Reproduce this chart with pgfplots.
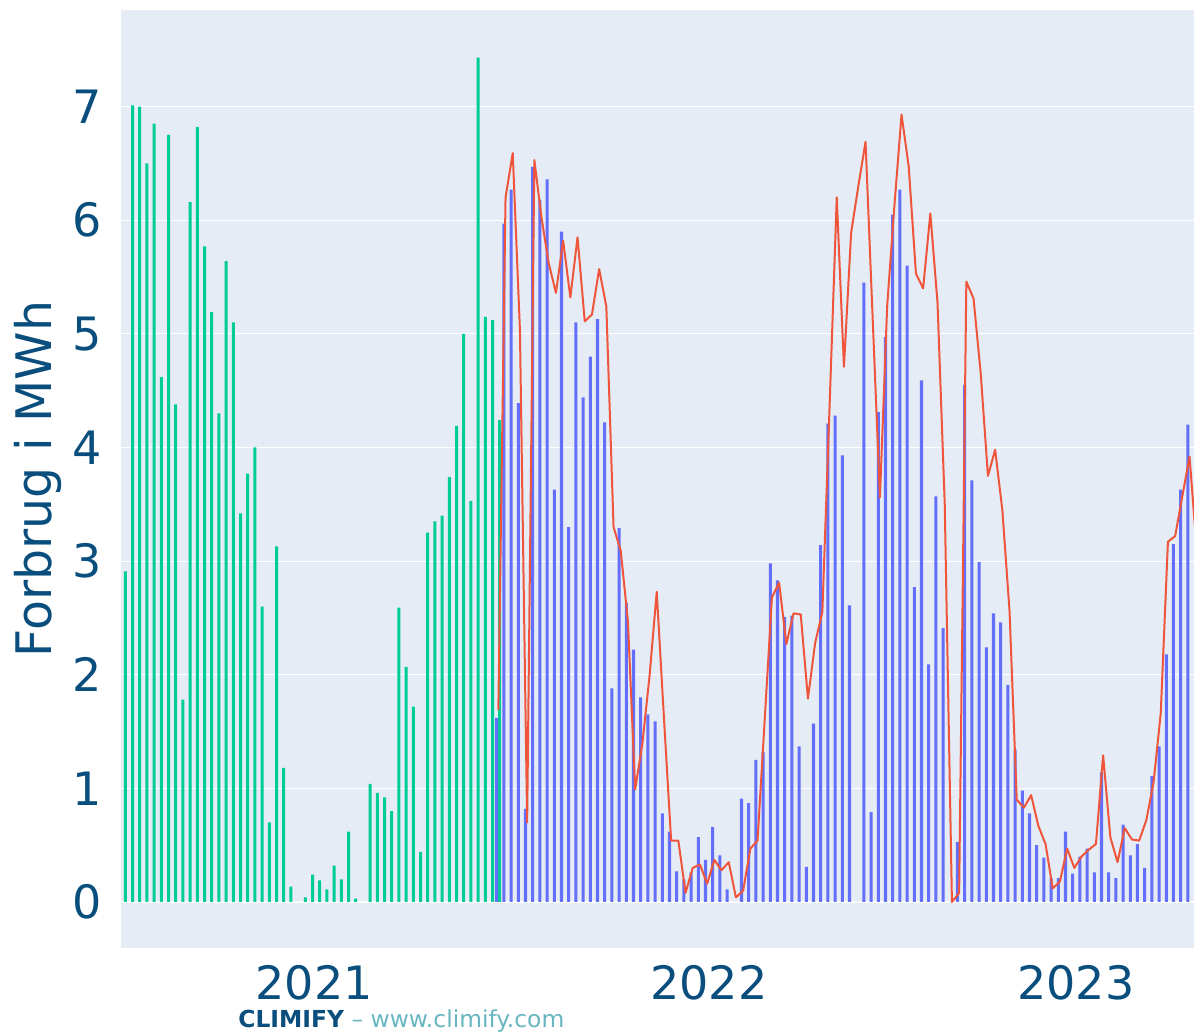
\documentclass[border=0pt]{standalone}
\usepackage{fontspec}
\setmainfont{DejaVu Sans}
\usepackage{pgfplots}
\usepackage{pgfplotstable}
\pgfplotsset{compat=1.18}

\definecolor{plotbg}{HTML}{E5ECF6}
\definecolor{pgreen}{HTML}{00CC96}
\definecolor{pblue}{HTML}{636EFA}
\definecolor{pred}{HTML}{EF553B}
\definecolor{txtblue}{RGB}{10,78,125}
\definecolor{linkteal}{RGB}{104,182,192}

% weekly consumption, MWh (first season, green)
\pgfplotstableread[row sep=\\]{
y\\ 2.91\\ 7.01\\ 7.00\\ 6.50\\ 6.85\\ 4.62\\ 6.75\\ 4.38\\ 1.78\\ 6.16\\
6.82\\ 5.77\\ 5.19\\ 4.30\\ 5.64\\ 5.10\\ 3.42\\ 3.77\\ 4.00\\ 2.60\\
0.70\\ 3.13\\ 1.18\\ 0.135\\ 0\\ 0.04\\ 0.24\\ 0.19\\ 0.11\\ 0.32\\
0.20\\ 0.62\\ 0.03\\ 0\\ 1.04\\ 0.96\\ 0.92\\ 0.80\\ 2.59\\ 2.07\\
1.72\\ 0.44\\ 3.25\\ 3.35\\ 3.40\\ 3.74\\ 4.19\\ 5.00\\ 3.53\\ 7.43\\
5.15\\ 5.12\\ 4.24\\
}\greendata

% weekly consumption, MWh (later, blue)
\pgfplotstableread[row sep=\\]{
y\\ 1.62\\ 5.97\\ 6.27\\ 4.39\\ 0.82\\ 6.47\\ 6.18\\ 6.36\\ 3.63\\ 5.90\\
3.30\\ 5.10\\ 4.44\\ 4.80\\ 5.13\\ 4.22\\ 1.88\\ 3.29\\ 2.63\\ 2.22\\
1.80\\ 1.65\\ 1.59\\ 0.78\\ 0.62\\ 0.27\\ 0.20\\ 0.26\\ 0.57\\ 0.37\\
0.66\\ 0.41\\ 0.11\\ 0\\ 0.91\\ 0.87\\ 1.25\\ 1.32\\ 2.98\\ 2.83\\
2.51\\ 2.52\\ 1.37\\ 0.31\\ 1.57\\ 3.14\\ 4.21\\ 4.28\\ 3.93\\ 2.61\\
0\\ 5.45\\ 0.79\\ 4.31\\ 4.97\\ 6.05\\ 6.27\\ 5.60\\ 2.77\\ 4.59\\
2.09\\ 3.57\\ 2.41\\ 0\\ 0.53\\ 4.55\\ 3.71\\ 2.99\\ 2.24\\ 2.54\\
2.46\\ 1.91\\ 1.34\\ 0.98\\ 0.78\\ 0.50\\ 0.39\\ 0.21\\ 0.21\\ 0.62\\
0.25\\ 0.40\\ 0.47\\ 0.26\\ 1.14\\ 0.26\\ 0.21\\ 0.68\\ 0.41\\ 0.51\\
0.30\\ 1.11\\ 1.37\\ 2.18\\ 3.15\\ 3.63\\ 4.20\\
}\bluedata

% red line
\pgfplotstableread[row sep=\\]{
y\\ 1.69\\ 6.20\\ 6.59\\ 5.03\\ 0.70\\ 6.53\\ 6.02\\ 5.62\\ 5.36\\ 5.82\\
5.32\\ 5.85\\ 5.11\\ 5.17\\ 5.57\\ 5.24\\ 3.30\\ 3.09\\ 2.47\\ 0.99\\
1.39\\ 1.99\\ 2.73\\ 1.62\\ 0.54\\ 0.54\\ 0.08\\ 0.30\\ 0.33\\ 0.16\\
0.37\\ 0.28\\ 0.35\\ 0.04\\ 0.10\\ 0.47\\ 0.54\\ 1.61\\ 2.68\\ 2.81\\
2.27\\ 2.54\\ 2.53\\ 1.79\\ 2.28\\ 2.55\\ 4.35\\ 6.20\\ 4.71\\ 5.89\\
6.30\\ 6.69\\ 5.12\\ 3.56\\ 5.24\\ 6.12\\ 6.93\\ 6.47\\ 5.53\\ 5.40\\
6.06\\ 5.27\\ 3.50\\ 0.00\\ 0.08\\ 5.46\\ 5.31\\ 4.65\\ 3.75\\ 3.98\\
3.45\\ 2.56\\ 0.90\\ 0.83\\ 0.94\\ 0.67\\ 0.51\\ 0.12\\ 0.18\\ 0.47\\
0.30\\ 0.40\\ 0.46\\ 0.51\\ 1.29\\ 0.57\\ 0.35\\ 0.65\\ 0.55\\ 0.54\\
0.72\\ 1.05\\ 1.66\\ 3.17\\ 3.22\\ 3.57\\ 3.92\\ 3.10\\
}\reddata

\begin{document}
\begin{tikzpicture}
\path[use as bounding box] (-60.5pt,-42.5pt) rectangle (536.5pt,474pt);
\begin{axis}[
    scale only axis, width=536.5pt, height=469pt,
    xmin=-0.6, xmax=148.43, ymin=-0.405, ymax=7.85,
    axis background/.style={fill=plotbg},
    axis line style={draw=none}, tick style={draw=none},
    ymajorgrids, grid style={white, line width=0.5pt},
    ytick={0,...,7},
    xtick={26.21,81.07,132.04}, xticklabels={2021,2022,2023},
    /pgf/number format/assume math mode=true,
    ticklabel style={font=\fontsize{23}{27}\selectfont, text=txtblue},
    yticklabel style={anchor=east, inner sep=0pt, xshift=-9.5pt},
    xticklabel style={anchor=north, inner sep=0pt, yshift=-8.5pt},
    ylabel={Forbrug i MWh},
    every axis y label/.style={at={(axis description cs:-0.0773,0.5)},
        rotate=90, anchor=center, font=\fontsize{24.5}{28}\selectfont, text=txtblue},
]
\addplot[white, line width=1pt, forget plot] coordinates {(-1,0) (150,0)};
\addplot[ybar, bar width=0.42, bar shift=0pt, fill=pgreen, draw=none]
    table[x expr=\coordindex, y=y] {\greendata};
\addplot[ybar, bar width=0.42, bar shift=0pt, fill=pblue, draw=none]
    table[x expr=\coordindex+51.58, y=y] {\bluedata};
\addplot[pred, line width=1pt, line join=round, no marks]
    table[x expr=\coordindex+51.81, y=y] {\reddata};
\end{axis}
\node[anchor=base west, inner sep=0pt, font=\fontsize{11.7}{14}\selectfont]
    at (58.5pt,-39.5pt)
    {\textcolor{txtblue}{\bfseries CLIMIFY} \textcolor{linkteal}{– \underline{www.climify.com}}};
\end{tikzpicture}
\end{document}
